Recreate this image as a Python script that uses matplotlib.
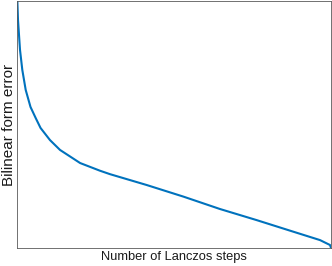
import matplotlib
matplotlib.use("Agg")
import matplotlib.pyplot as plt

# Lanczos steps (arbitrary units, 0..100) and bilinear form error (normalized)
steps = [0.0, 0.1, 0.32, 0.96, 1.69, 2.77, 4.3, 5.96, 7.5, 10.5, 13.7, 20.1,
         26.4, 29.6, 41.3, 53.0, 64.6, 76.3, 88.0, 96.5, 99.7, 100.0]
error = [1.15, 1.004, 0.923, 0.802, 0.721, 0.640, 0.571, 0.526, 0.486, 0.437,
         0.397, 0.344, 0.313, 0.299, 0.255, 0.208, 0.158, 0.113, 0.066, 0.032,
         0.012, 0.0]

plt.rcParams['font.family'] = ['Liberation Sans', 'DejaVu Sans']

fig = plt.figure(figsize=(3.32, 2.66), dpi=100)
ax = fig.add_axes([17/332, 1 - 248/266, 314/332, 247/266])
ax.plot(steps, error, color='#0072BD', linewidth=1.5,
        solid_capstyle='round', solid_joinstyle='round')
ax.set_xlim(0, 100)
ax.set_ylim(0, 1)
ax.set_xticks([])
ax.set_yticks([])
for s in ax.spines.values():
    s.set_color('#5a5a5a')
    s.set_linewidth(0.6)
ax.set_xlabel('Number of Lanczos steps', fontsize=9.3, color='#1a1a1a', labelpad=2)
ax.set_ylabel('Bilinear form error', fontsize=11, color='#1a1a1a', labelpad=1)
fig.savefig('out.png', dpi=100)
